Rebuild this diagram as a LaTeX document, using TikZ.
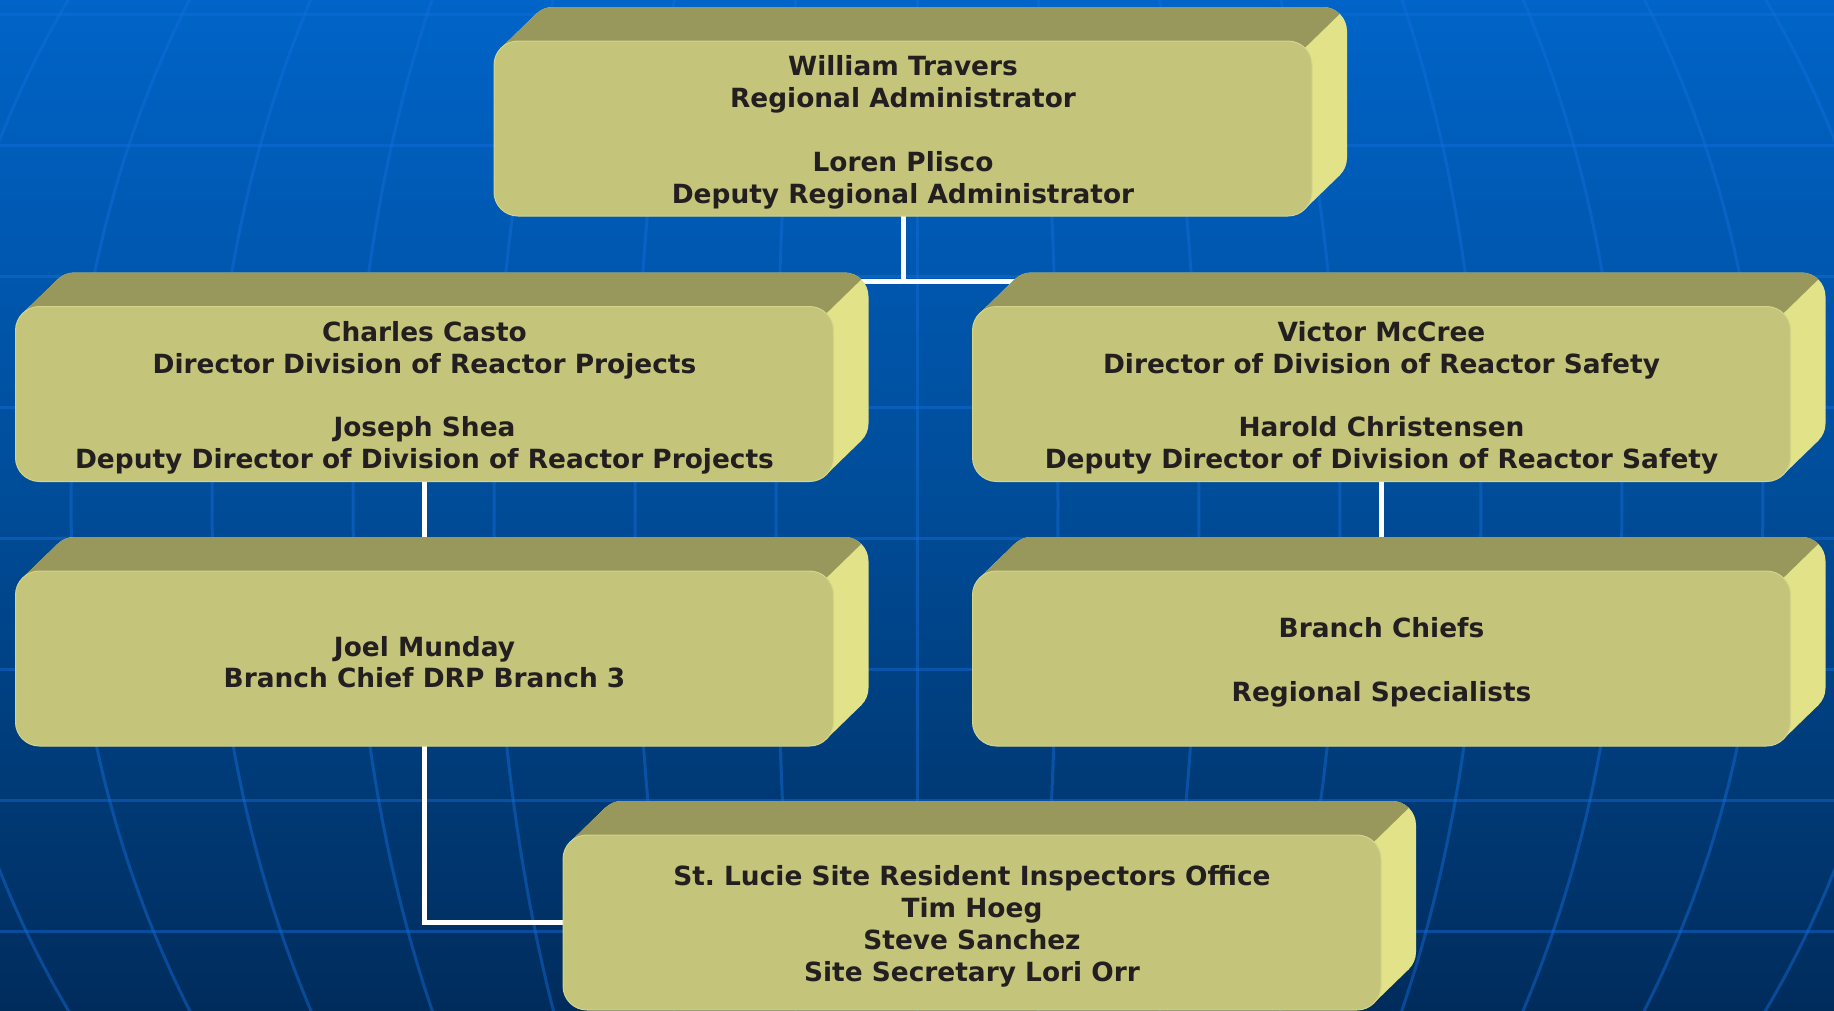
\documentclass[tikz,border=0pt]{standalone}
\usepackage{fontspec}
\setmainfont{DejaVu Sans}
\usetikzlibrary{calc, positioning}

\definecolor{bgtop}{RGB}{0,100,200}
\definecolor{bgmid}{RGB}{0,76,152}
\definecolor{bgbot}{RGB}{0,44,92}
\definecolor{gridblue}{RGB}{20,110,220}
\definecolor{facefront}{RGB}{196,196,122}
\definecolor{facetop}{RGB}{153,152,92}
\definecolor{faceside}{RGB}{226,226,136}
\definecolor{faceedge}{RGB}{212,212,138}
\definecolor{inkdark}{RGB}{35,31,32}

\pgfdeclarelayer{grid}
\pgfdeclarelayer{wires}
\pgfdeclarelayer{depth}
\pgfsetlayers{grid,wires,depth,main}

\tikzset{
  box/.style={rectangle, rounded corners=24pt, fill=facefront, draw=faceedge,
    line width=1pt, minimum width=818pt, minimum height=175pt, outer sep=0pt,
    inner sep=0pt, align=center, text=inkdark,
    font=\fontsize{26.4}{31.8}\selectfont\bfseries},
  wire/.style={draw=white, line width=5pt},
  gridline/.style={draw=gridblue, opacity=0.45, line width=3pt}
}

% taller first line, so the text sits a little lower
\newcommand{\pad}{\rule{0pt}{27.5pt}}

% top and right faces behind a box
\newcommand{\slab}[1]{%
  \begin{pgfonlayer}{depth}
    \fill[faceside, rounded corners=24pt] ($(#1.south west)+(35,-34)$) rectangle ($(#1.north east)+(35,-34)$);
    \fill[faceside] ($(#1.north west)+(7,7)$) -- ++(35,-34)
      -- ($(#1.south east)+(28,-41)$) -- ($(#1.south east)+(-7,-7)$) -- cycle;
    \begin{scope}
      \clip ($(#1.north west)+(-60,30)$) -- ($(#1.north east)+(-31,30)$)
        -- ($(#1.north east)+(78,-76)$) -- ($(#1.north west)+(-60,-76)$) -- cycle;
      \fill[facetop, rounded corners=24pt] ($(#1.south west)+(35,-34)$) rectangle ($(#1.north east)+(35,-34)$);
      \fill[facetop] ($(#1.north west)+(7,7)$) -- ++(35,-34)
        -- ($(#1.south east)+(28,-41)$) -- ($(#1.south east)+(-7,-7)$) -- cycle;
    \end{scope}
  \end{pgfonlayer}}

\begin{document}
\begin{tikzpicture}[x=1pt,y=-1pt]
            \useasboundingbox (0,0) rectangle (1834,1010);
            % background globe
            \begin{pgfonlayer}{grid}
            \fill[top color=bgtop, bottom color=bgbot, middle color=bgmid] (0,0) rectangle (1834,1010);
            \begin{scope}
            \clip (0,0) rectangle (1834,1010);
            \foreach \h in {14,145,...,931}
              \draw[gridline] (0,\h) -- (1834,\h);
            \foreach \k in {-7,...,7}
              \draw[gridline] plot[domain=-36:36, samples=30, smooth] ({917+141*\k*cos(\x)},{505+990*sin(\x)});
            \end{scope}
            \end{pgfonlayer}

            \coordinate (T) at (903,128.5);
            \coordinate (L1) at (424.5,394);
            \coordinate (R1) at (1381.5,394);
            \coordinate (L2) at (424.5,658.5);
            \coordinate (R2) at (1381.5,658.5);
            \coordinate (S) at (972,922.5);

            \node[box] (admin) at (T) {\pad William Travers\\Regional Administrator\\[31.8pt]Loren Plisco\\Deputy Regional Administrator};
            \node[box] (projects) at (L1) {\pad Charles Casto\\Director Division of Reactor Projects\\[31.8pt]Joseph Shea\\Deputy Director of Division of Reactor Projects};
            \node[box] (safety) at (R1) {\pad Victor McCree\\Director of Division of Reactor Safety\\[31.8pt]Harold Christensen\\Deputy Director of Division of Reactor Safety};
            \node[box] (munday) at (L2) {\pad Joel Munday\\Branch Chief DRP Branch 3};
            \node[box] (chiefs) at (R2) {\pad Branch Chiefs\\[31.8pt]Regional Specialists};
            \node[box] (office) at (S) {\pad St.\ Lucie Site Resident Inspectors Office\\Tim Hoeg\\Steve Sanchez\\Site Secretary Lori Orr};

            \foreach \n in {admin,projects,safety,munday,chiefs,office}
              \slab{\n};

            % reporting lines
            \begin{pgfonlayer}{wires}
            \draw[wire] (admin.south) -- ++(0,65) coordinate (J);
            \draw[wire] (projects.north) |- (J) -| (safety.north);
            \draw[wire] (projects.south) -- (munday.north);
            \draw[wire] (safety.south) -- (chiefs.north);
            \draw[wire] (munday.south) |- (office.west);
            \end{pgfonlayer}
        \end{tikzpicture}
\end{document}
